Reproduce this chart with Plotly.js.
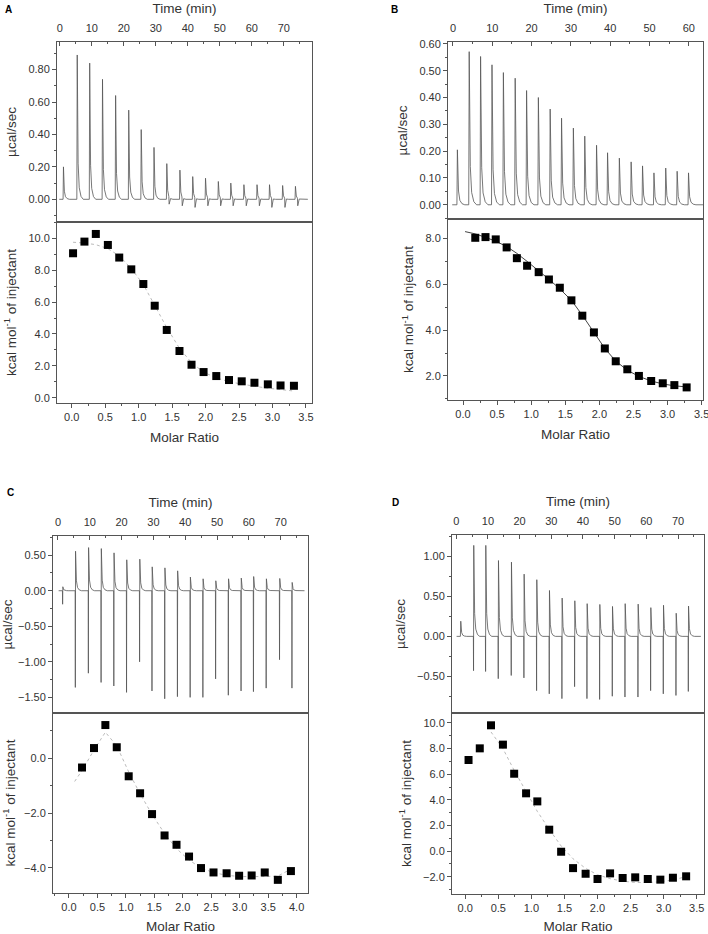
<!DOCTYPE html>
<html>
<head>
<meta charset="utf-8">
<script src="https://cdn.plot.ly/plotly-3.0.1.min.js"></script>
<style>
  body { margin: 0; background: #fff; }
  #chart { width: 708px; height: 934px; }
</style>
</head>
<body>
<div id="chart"></div>
<script>
// ---- panel A ----
var aTimes = [1.0, 5.3, 9.2, 13.2, 17.3, 21.4, 25.3, 29.3, 33.3, 37.4, 41.4, 45.4, 49.4, 53.3, 57.4, 61.5, 65.4, 69.5, 73.5];
var aPeaks = [0.20, 0.89, 0.84, 0.74, 0.64, 0.55, 0.43, 0.32, 0.22, 0.18, 0.14, 0.13, 0.11, 0.10, 0.09, 0.09, 0.09, 0.085, 0.08];
var aDips  = [0, 0, 0, 0, 0, 0, 0, 0, -0.03, -0.04, -0.05, -0.04, -0.04, -0.04, -0.04, -0.04, -0.05, -0.05, -0.04];
var aRatio = [0.02, 0.19, 0.36, 0.54, 0.71, 0.89, 1.07, 1.24, 1.42, 1.61, 1.79, 1.97, 2.16, 2.35, 2.54, 2.73, 2.93, 3.12, 3.32];
var aHeat  = [9.06, 9.79, 10.27, 9.58, 8.79, 8.05, 7.13, 5.77, 4.25, 2.93, 2.07, 1.61, 1.36, 1.11, 1.03, 0.94, 0.84, 0.77, 0.75];
var aFit   = [9.75, 9.70, 9.60, 9.35, 8.90, 8.10, 7.10, 5.80, 4.40, 3.10, 2.20, 1.60, 1.25, 1.00, 0.85, 0.72, 0.60, 0.50, 0.42];

// ---- panel B ----
var bTimes = [1.0, 4.0, 6.9, 9.8, 12.7, 15.7, 18.6, 21.6, 24.6, 27.5, 30.5, 33.4, 36.4, 39.2, 42.2, 45.2, 48.1, 51.0, 54.0, 56.9, 59.8];
var bPeaks = [0.205, 0.571, 0.553, 0.522, 0.493, 0.472, 0.426, 0.40, 0.357, 0.323, 0.286, 0.256, 0.222, 0.194, 0.174, 0.16, 0.145, 0.119, 0.137, 0.125, 0.119];
var bRatio = [0.18, 0.33, 0.48, 0.64, 0.79, 0.94, 1.11, 1.26, 1.42, 1.59, 1.75, 1.92, 2.08, 2.24, 2.41, 2.58, 2.76, 2.93, 3.10, 3.28];
var bHeat  = [8.03, 8.06, 7.96, 7.61, 7.14, 6.81, 6.53, 6.21, 5.85, 5.30, 4.63, 3.90, 3.20, 2.64, 2.29, 2.00, 1.78, 1.68, 1.60, 1.50];
var bFitX  = [0.03, 0.18, 0.33, 0.48, 0.64, 0.79, 0.94, 1.11, 1.26, 1.42, 1.59, 1.75, 1.92, 2.08, 2.24, 2.41, 2.58, 2.76, 2.93, 3.10, 3.28];
var bFit   = [8.30, 8.20, 8.05, 7.88, 7.65, 7.35, 7.00, 6.60, 6.22, 5.80, 5.30, 4.65, 3.92, 3.20, 2.65, 2.25, 1.98, 1.78, 1.65, 1.57, 1.52];

// ---- panel C ----
var cTimes = [1.4, 5.4, 9.5, 13.5, 17.5, 21.5, 25.6, 29.5, 33.5, 37.5, 41.5, 45.5, 49.5, 53.5, 57.5, 61.4, 65.4, 69.6, 73.5];
var cPeaks = [0.056, 0.556, 0.607, 0.593, 0.533, 0.435, 0.444, 0.336, 0.322, 0.28, 0.192, 0.168, 0.14, 0.168, 0.178, 0.20, 0.168, 0.173, 0.117];
var cDips  = [-0.19, -1.36, -1.16, -1.29, -1.34, -1.43, -1.00, -1.41, -1.52, -1.49, -1.50, -1.50, -1.24, -1.47, -1.41, -1.42, -1.37, -0.97, -1.37];
var cRatio = [0.23, 0.44, 0.64, 0.84, 1.05, 1.25, 1.46, 1.68, 1.89, 2.11, 2.32, 2.54, 2.77, 2.99, 3.21, 3.44, 3.67, 3.90];
var cHeat  = [-0.34, 0.37, 1.21, 0.40, -0.66, -1.28, -2.04, -2.82, -3.16, -3.59, -4.01, -4.17, -4.20, -4.29, -4.28, -4.17, -4.44, -4.12];
var cFitX  = [0.10, 0.23, 0.44, 0.64, 0.84, 1.05, 1.25, 1.46, 1.68, 1.89, 2.11, 2.32, 2.54, 2.77, 2.99, 3.21, 3.44, 3.67, 3.90];
var cFit   = [-0.85, -0.45, 0.30, 0.95, 0.45, -0.50, -1.30, -2.05, -2.75, -3.30, -3.72, -4.00, -4.18, -4.27, -4.32, -4.33, -4.32, -4.30, -4.05];

// ---- panel D ----
var dTimes = [1.3, 5.4, 9.2, 13.2, 17.3, 21.3, 25.3, 29.3, 33.3, 37.3, 41.2, 45.2, 49.2, 53.2, 57.3, 61.3, 65.3, 69.3, 73.2];
var dPeaks = [0.19, 1.14, 1.14, 0.95, 0.93, 0.78, 0.71, 0.575, 0.48, 0.446, 0.41, 0.40, 0.375, 0.41, 0.404, 0.36, 0.39, 0.29, 0.38];
var dDips  = [0, -0.43, -0.44, -0.53, -0.49, -0.52, -0.68, -0.72, -0.78, -0.63, -0.78, -0.79, -0.75, -0.76, -0.76, -0.68, -0.72, -0.74, -0.69];
var dRatio = [0.05, 0.22, 0.39, 0.57, 0.74, 0.92, 1.09, 1.27, 1.45, 1.63, 1.82, 2.00, 2.19, 2.38, 2.57, 2.76, 2.95, 3.14, 3.34];
var dHeat  = [7.11, 8.02, 9.82, 8.31, 6.04, 4.51, 3.88, 1.67, -0.05, -1.33, -1.77, -2.18, -1.74, -2.10, -2.05, -2.18, -2.23, -2.08, -1.97];
var dFitX  = [0.39, 0.57, 0.74, 0.92, 1.09, 1.27, 1.45, 1.63, 1.82, 2.00, 2.19, 2.38, 2.57, 2.76, 2.95, 3.14, 3.34];
var dFit   = [9.30, 8.00, 6.30, 4.60, 3.10, 1.70, 0.40, -0.60, -1.35, -1.85, -2.15, -2.35, -2.45, -2.45, -2.40, -2.25, -2.00];

var fontFam = 'Arial, "Liberation Sans", sans-serif';
var txtCol = '#333';
var axCol = '#555';

// thermogram polyline built from injection times / peak heights
function thermo(times, ups, downs, xa, ya) {
  var x = [times[0] - 1.2], y = [0];
  for (var i = 0; i < times.length; i++) {
    var t = times[i], u = ups[i], d = downs ? downs[i] : 0;
    x.push(t); y.push(0);
    if (d < -0.1) { x.push(t + 0.05); y.push(d); }
    x.push(t + 0.12); y.push(u);
    x.push(t + 0.4); y.push(u * 0.25);
    x.push(t + 0.75); y.push(u * 0.08);
    if (d < 0 && d >= -0.1) { x.push(t + 0.85); y.push(d); }
    x.push(t + 1.3); y.push(u * 0.02);
    x.push(t + 2.0); y.push(0);
  }
  x.push(times[times.length - 1] + 4); y.push(0);
  return {x: x, y: y, xaxis: xa, yaxis: ya, type: 'scatter', mode: 'lines',
    line: {color: '#555', width: 0.8}, hoverinfo: 'skip', showlegend: false};
}

function pts(xs, ys, xa, ya) {
  return {x: xs, y: ys, xaxis: xa, yaxis: ya, type: 'scatter', mode: 'markers',
    marker: {symbol: 'square', size: 8, color: '#000'}, showlegend: false};
}

function fit(xs, ys, xa, ya, dash, col) {
  return {x: xs, y: ys, xaxis: xa, yaxis: ya, type: 'scatter', mode: 'lines',
    line: {color: col, width: 1, dash: dash}, showlegend: false};
}

var data = [
  thermo(aTimes, aPeaks, aDips, 'x', 'y'),
  fit(aRatio, aFit, 'x2', 'y2', 'dot', '#bbb'),
  pts(aRatio, aHeat, 'x2', 'y2'),
  thermo(bTimes, bPeaks, null, 'x3', 'y3'),
  fit(bFitX, bFit, 'x4', 'y4', 'solid', '#444'),
  pts(bRatio, bHeat, 'x4', 'y4'),
  thermo(cTimes, cPeaks, cDips, 'x5', 'y5'),
  fit(cFitX, cFit, 'x6', 'y6', 'dot', '#bbb'),
  pts(cRatio, cHeat, 'x6', 'y6'),
  thermo(dTimes, dPeaks, dDips, 'x7', 'y7'),
  fit(dFitX, dFit, 'x8', 'y8', 'dot', '#bbb'),
  pts(dRatio, dHeat, 'x8', 'y8')
];

function px(v) { return v / 708; }
function py(v) { return 1 - v / 934; }

var tf = {family: fontFam, size: 11, color: txtCol};
var titleFont = {family: fontFam, size: 13.5, color: txtCol};

function timeAx(l, r, range, anchor) {
  return {domain: [px(l), px(r)], range: range, anchor: anchor, side: 'top',
    tick0: 0, dtick: 10, ticks: 'inside', ticklen: 4, tickcolor: axCol,
    ticklabelstandoff: 5, ticklabeloverflow: 'allow',
    minor: {ticks: 'inside', ticklen: 2, dtick: 5, tickcolor: axCol},
    showline: true, linecolor: axCol, linewidth: 1, mirror: true,
    showgrid: false, zeroline: false, tickfont: tf,
    title: {text: 'Time (min)', font: titleFont, standoff: 4}};
}
function powerAx(t, b, range, anchor, dtick) {
  return {domain: [py(b), py(t)], range: range, anchor: anchor,
    dtick: dtick, tickformat: '.2f', ticks: 'outside', ticklen: 4, tickcolor: axCol,
    ticklabeloverflow: 'allow',
    minor: {ticks: 'outside', ticklen: 2, dtick: dtick / 2, tickcolor: axCol},
    showline: true, linecolor: axCol, linewidth: 1, mirror: true,
    showgrid: false, zeroline: false, tickfont: tf,
    title: {text: 'µcal/sec', font: titleFont, standoff: 8}};
}
function ratioAx(l, r, range, anchor, dtick) {
  return {domain: [px(l), px(r)], range: range, anchor: anchor,
    tick0: 0, dtick: dtick || 0.5, tickformat: '.1f', ticks: 'outside', ticklen: 4, tickcolor: axCol,
    ticklabeloverflow: 'allow',
    minor: {ticks: 'outside', ticklen: 2, dtick: (dtick || 0.5) / 2, tickcolor: axCol},
    showline: true, linecolor: axCol, linewidth: 1, mirror: true,
    showgrid: false, zeroline: false, tickfont: tf,
    title: {text: 'Molar Ratio', font: titleFont, standoff: 10}};
}
function heatAx(t, b, range, anchor, dtick) {
  return {domain: [py(b), py(t)], range: range, anchor: anchor,
    tick0: 0, dtick: dtick, tickformat: '.1f', ticks: 'outside', ticklen: 4, tickcolor: axCol,
    ticklabeloverflow: 'allow',
    minor: {ticks: 'outside', ticklen: 2, dtick: dtick / 2, tickcolor: axCol},
    showline: true, linecolor: axCol, linewidth: 1, mirror: true,
    showgrid: false, zeroline: false, tickfont: tf,
    title: {text: 'kcal mol<sup>-1</sup> of injectant', font: titleFont, standoff: 8}};
}

var layout = {
  width: 708, height: 934,
  margin: {l: 0, r: 0, t: 0, b: 0},
  paper_bgcolor: '#fff', plot_bgcolor: '#fff',
  font: {family: fontFam, color: txtCol},
  showlegend: false,

  xaxis:  timeAx(57, 312, [-0.9, 78.8], 'y'),
  yaxis:  powerAx(42, 222, [-0.14, 0.97], 'x', 0.2),
  xaxis2: ratioAx(57, 312, [-0.22, 3.59], 'y2'),
  yaxis2: heatAx(222, 403, [-0.33, 11.02], 'x2', 2),

  xaxis3: timeAx(448, 703, [-1.27, 63.6], 'y3'),
  yaxis3: powerAx(42, 219, [-0.053, 0.607], 'x3', 0.1),
  xaxis4: ratioAx(448, 703, [-0.22, 3.52], 'y4'),
  yaxis4: heatAx(219, 400, [0.95, 8.85], 'x4', 2),

  xaxis5: timeAx(53, 308, [-1.57, 78.6], 'y5'),
  yaxis5: powerAx(536, 713, [-1.72, 0.77], 'x5', 0.5),
  xaxis6: ratioAx(53, 308, [-0.28, 4.2], 'y6'),
  yaxis6: heatAx(713, 893, [-4.92, 1.65], 'x6', 2),

  xaxis7: timeAx(452, 704, [-1.35, 78.2], 'y7'),
  yaxis7: powerAx(535, 713, [-0.96, 1.27], 'x7', 0.5),
  xaxis8: ratioAx(452, 704, [-0.2, 3.61], 'y8'),
  yaxis8: heatAx(713, 894, [-3.35, 10.78], 'x8', 2),

  annotations: [
    {text: '<b>A</b>', x: px(3), y: py(2), xref: 'paper', yref: 'paper', xanchor: 'left', yanchor: 'top', showarrow: false, font: {family: fontFam, size: 10, color: '#000'}},
    {text: '<b>B</b>', x: px(389), y: py(2), xref: 'paper', yref: 'paper', xanchor: 'left', yanchor: 'top', showarrow: false, font: {family: fontFam, size: 10, color: '#000'}},
    {text: '<b>C</b>', x: px(5), y: py(485), xref: 'paper', yref: 'paper', xanchor: 'left', yanchor: 'top', showarrow: false, font: {family: fontFam, size: 10, color: '#000'}},
    {text: '<b>D</b>', x: px(390), y: py(495), xref: 'paper', yref: 'paper', xanchor: 'left', yanchor: 'top', showarrow: false, font: {family: fontFam, size: 10, color: '#000'}}
  ]
};

Plotly.newPlot('chart', data, layout, {staticPlot: true});
</script>
</body>
</html>
